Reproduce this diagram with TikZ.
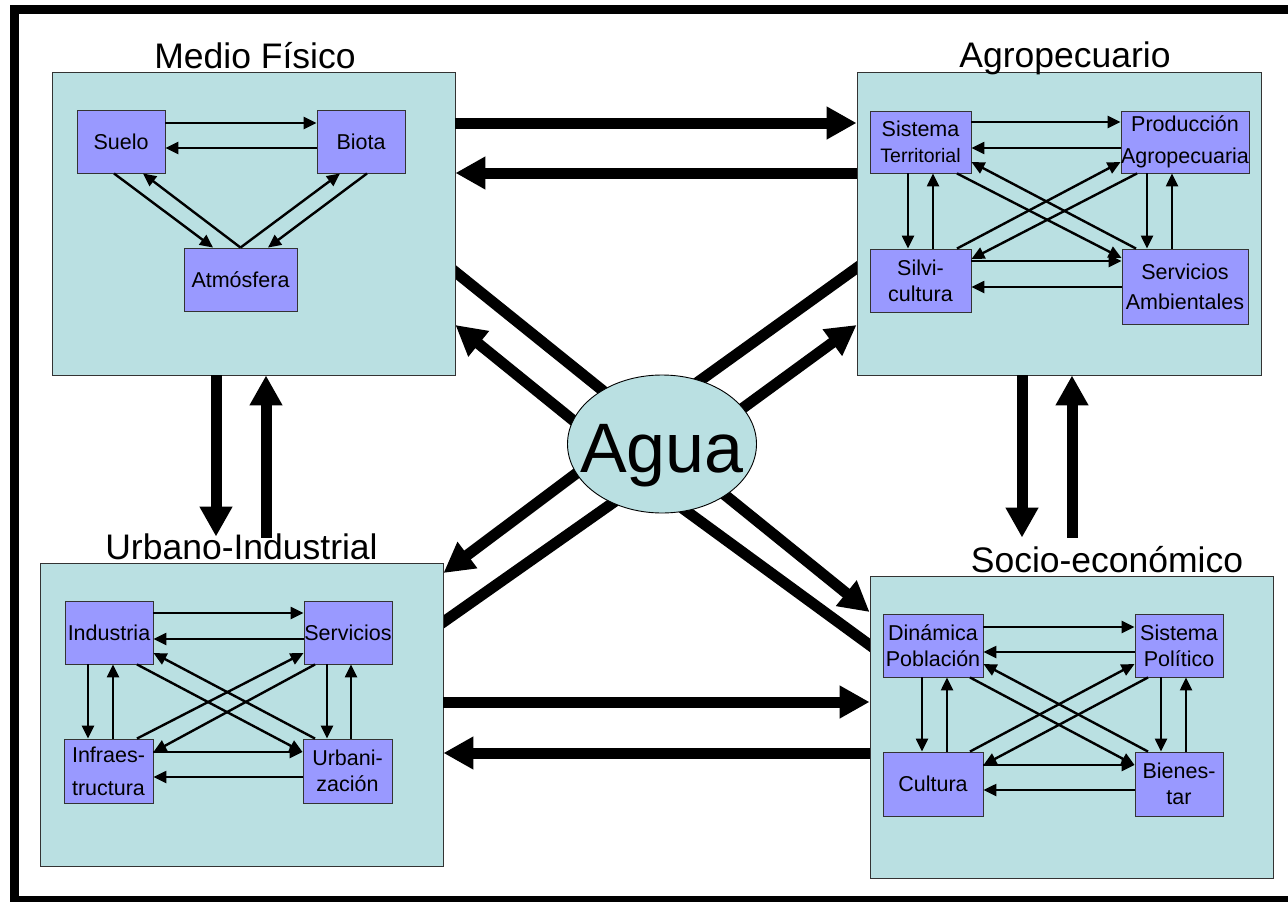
\documentclass[tikz,border=0pt]{standalone}
\usepackage{fontspec}
\setmainfont{Liberation Sans}
\usetikzlibrary{arrows.meta,shapes.geometric,backgrounds}
\definecolor{sectorfill}{HTML}{BAE0E2}
\definecolor{itemfill}{HTML}{9999FF}
\begin{document}
\begin{tikzpicture}[x=1pt,y=-1pt,
  sector/.style={draw=black!80,fill=sectorfill,line width=0.9pt,inner sep=0pt},
  item/.style={draw=black!80,fill=itemfill,line width=0.9pt,inner sep=0pt,align=center,font=\fontsize{21.5}{26}\selectfont},
  title/.style={anchor=base,inner sep=0pt,font=\fontsize{35.5}{42}\selectfont},
  link/.style={line width=2.4pt,-{Triangle[length=13pt,width=12pt]}},
  flow/.style={line width=11pt,-{Triangle[length=30pt,width=31pt]}},
  bar/.style={line width=11pt}]
\useasboundingbox (0,0) rectangle (1288,902);
\draw[line width=9pt] (14.5,9.5) rectangle (1300,900.5);

\node[sector,minimum width=403pt,minimum height=303pt] (mf) at (253.5,223.5) {};
\node[sector,minimum width=404pt,minimum height=303pt] (ag) at (1059,223.5) {};
\node[sector,minimum width=403pt,minimum height=303pt] (ui) at (241.5,714.5) {};
\node[sector,minimum width=403pt,minimum height=302pt] (se) at (1071.5,727) {};

\node[title] (mft) at ([xshift=1.5pt,yshift=3pt]mf.north) {Medio Físico};
\node[title] (agt) at ([xshift=6pt,yshift=4pt]ag.north) {Agropecuario};
\node[title] (uit) at ([yshift=3pt]ui.north) {Urbano-Industrial};
\node[title] (set) at ([xshift=35.5pt,yshift=3pt]se.north) {Socio-económico};

\node[item,minimum width=88pt,minimum height=63pt] (suelo) at (121,141.5) {Suelo};
\node[item,minimum width=88pt,minimum height=63pt] (biota) at (361,141.5) {Biota};
\node[item,minimum width=113pt,minimum height=63pt] (atmos) at (240.5,279.5) {Atmósfera};

\node[item,minimum width=101pt,minimum height=62pt] (sterr) at (920.5,142) {Sistema\\{\fontsize{19.5}{24}\selectfont Territorial}};
\node[item,minimum width=126pt,minimum height=62pt] (prod) at (1185,142) {Producción\\[6pt]Agropecuaria};
\node[item,minimum width=101pt,minimum height=63pt] (silvi) at (920.5,280.5) {Silvi-\\cultura};
\node[item,minimum width=126pt,minimum height=75pt] (samb) at (1185,286.5) {Servicios\\[4pt]Ambientales};

\node[item,minimum width=88pt,minimum height=63pt] (indus) at (109,632.5) {Industria};
\node[item,minimum width=88pt,minimum height=63pt] (servi) at (348,632.5) {Servicios};
\node[item,minimum width=89pt,minimum height=64pt] (infra) at (108.5,771) {Infraes-\\[7pt]tructura};
\node[item,minimum width=89pt,minimum height=64pt] (urban) at (347.5,771) {Urbani-\\zación};

\node[item,minimum width=100pt,minimum height=63pt] (dinam) at (933,645.5) {Dinámica\\Población};
\node[item,minimum width=88pt,minimum height=63pt] (spol) at (1179,645.5) {Sistema\\Político};
\node[item,minimum width=100pt,minimum height=64pt] (cultu) at (933,784) {Cultura};
\node[item,minimum width=88pt,minimum height=64pt] (bien) at (1179,784) {Bienes-\\tar};

\node[ellipse,draw=black,fill=sectorfill,line width=0.9pt,minimum width=189pt,minimum height=138pt,inner sep=0pt,font=\fontsize{70}{80}\selectfont] (agua) at (662,444) {\raisebox{-28pt}[0pt][0pt]{\makebox[0pt]{Agua}}};

\draw[link] ([yshift=18.5pt]suelo.east) -- ([yshift=18.5pt]biota.west);
\draw[link] ([yshift=-6.5pt]biota.west) -- ([yshift=-6.5pt]suelo.east);
\draw[link] ([xshift=-7pt]suelo.south) -- ([xshift=-27.5pt]atmos.north);
\draw[link] (atmos.north) -- ([xshift=22pt]suelo.south);
\draw[link] (atmos.north) -- ([xshift=-21pt]biota.south);
\draw[link] ([xshift=6pt]biota.south) -- ([xshift=27.5pt]atmos.north);

\draw[link] ([yshift=20pt]sterr.east) -- ([yshift=20pt]prod.west);
\draw[link] ([yshift=-6pt]prod.west) -- ([yshift=-6pt]sterr.east);
\draw[link] ([yshift=19.5pt]silvi.east) -- ([yshift=25.5pt]samb.west);
\draw[link] ([yshift=-0.5pt]samb.west) -- ([yshift=-6.5pt]silvi.east);
\draw[link] ([xshift=-12.5pt]sterr.south) -- ([xshift=-12.5pt]silvi.north);
\draw[link] ([xshift=12.5pt]silvi.north) -- ([xshift=12.5pt]sterr.south);
\draw[link] ([xshift=-38pt]prod.south) -- ([xshift=-38pt]samb.north);
\draw[link] ([xshift=-13pt]samb.north) -- ([xshift=-13pt]prod.south);
\draw[link] ([xshift=36.5pt]sterr.south) -- ([yshift=28.5pt]samb.west);
\draw[link] ([xshift=-49pt]samb.north) -- ([yshift=-20pt]sterr.east);
\draw[link] ([xshift=36.5pt]silvi.north) -- ([yshift=-20pt]prod.west);
\draw[link] ([xshift=-48pt]prod.south) -- ([yshift=21.5pt]silvi.east);

\draw[link] ([yshift=19.5pt]indus.east) -- ([yshift=19.5pt]servi.west);
\draw[link] ([yshift=-6.5pt]servi.west) -- ([yshift=-6.5pt]indus.east);
\draw[link] ([yshift=19pt]infra.east) -- ([yshift=19pt]urban.west);
\draw[link] ([yshift=-6pt]urban.west) -- ([yshift=-6pt]infra.east);
\draw[link] ([xshift=-21pt]indus.south) -- ([xshift=-20.5pt]infra.north);
\draw[link] ([xshift=4.5pt]infra.north) -- ([xshift=4pt]indus.south);
\draw[link] ([xshift=-21pt]servi.south) -- ([xshift=-20.5pt]urban.north);
\draw[link] ([xshift=3.5pt]urban.north) -- ([xshift=3pt]servi.south);
\draw[link] ([xshift=28pt]indus.south) -- ([yshift=19pt]urban.west);
\draw[link] ([xshift=-32.5pt]urban.north) -- ([yshift=-20.5pt]indus.east);
\draw[link] ([xshift=28.5pt]infra.north) -- ([yshift=-20.5pt]servi.west);
\draw[link] ([xshift=-33pt]servi.south) -- ([yshift=19pt]infra.east);

\draw[link] ([yshift=18.5pt]dinam.east) -- ([yshift=18.5pt]spol.west);
\draw[link] ([yshift=-6.5pt]spol.west) -- ([yshift=-6.5pt]dinam.east);
\draw[link] ([yshift=19pt]cultu.east) -- ([yshift=19pt]bien.west);
\draw[link] ([yshift=-6pt]bien.west) -- ([yshift=-6pt]cultu.east);
\draw[link] ([xshift=-11pt]dinam.south) -- ([xshift=-11pt]cultu.north);
\draw[link] ([xshift=14pt]cultu.north) -- ([xshift=14pt]dinam.south);
\draw[link] ([xshift=-18pt]spol.south) -- ([xshift=-18pt]bien.north);
\draw[link] ([xshift=7pt]bien.north) -- ([xshift=7pt]spol.south);
\draw[link] ([xshift=37pt]dinam.south) -- ([yshift=19pt]bien.west);
\draw[link] ([xshift=-31pt]bien.north) -- ([yshift=-18.5pt]dinam.east);
\draw[link] ([xshift=37pt]cultu.north) -- ([yshift=-18.5pt]spol.west);
\draw[link] ([xshift=-31pt]spol.south) -- ([yshift=19pt]cultu.east);

\draw[flow] ([yshift=100.5pt]mf.east) -- ([yshift=100.5pt]ag.west);
\draw[flow] ([yshift=50.5pt]ag.west) -- ([yshift=50.5pt]mf.east);
\draw[flow] ([xshift=-37.5pt]mf.south) -- ([xshift=-25.5pt,yshift=26pt]ui.north);
\draw[flow] ([xshift=24.5pt,yshift=25pt]ui.north) -- ([xshift=12.5pt]mf.south);
\draw[flow] ([xshift=-37pt]ag.south) -- ([xshift=-49.5pt,yshift=38pt]se.north);
\draw[flow] ([xshift=0.5pt,yshift=38pt]se.north) -- ([xshift=13pt]ag.south);
\draw[flow] ([yshift=12.5pt]ui.east) -- ([yshift=25pt]se.west);
\draw[flow] ([yshift=-26pt]se.west) -- ([yshift=-38.5pt]ui.east);

\begin{scope}[on background layer]
\draw[bar,shorten <=-6pt,shorten >=-6pt] ([yshift=-48.5pt]mf.east) -- (agua.138);
\draw[flow,shorten <=-6pt] (agua.165) -- ([yshift=-101.5pt]mf.east);
\draw[bar,shorten <=-6pt,shorten >=-6pt] ([yshift=-44.5pt]ag.west) -- (agua.59);
\draw[flow,shorten <=-6pt] (agua.24) -- ([yshift=-101.5pt]ag.west);
\draw[flow,shorten <=-6pt] (agua.199) -- ([yshift=141.5pt]ui.east);
\draw[bar,shorten <=-6pt,shorten >=-6pt] ([yshift=92.5pt]ui.east) -- (agua.230);
\draw[flow,shorten <=-6pt] (agua.321) -- ([yshift=115pt]se.west);
\draw[bar,shorten <=-6pt,shorten >=-6pt] ([yshift=82pt]se.west) -- (agua.290);
\end{scope}
\end{tikzpicture}
\end{document}
